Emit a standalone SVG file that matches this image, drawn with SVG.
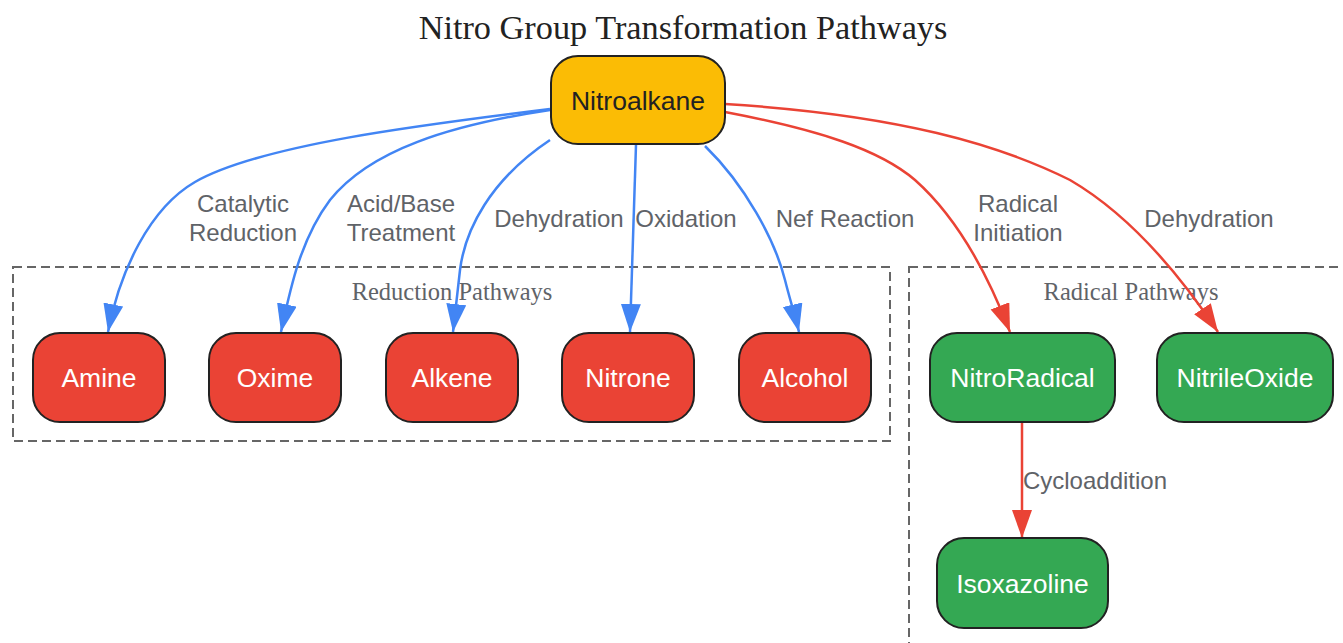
<svg xmlns="http://www.w3.org/2000/svg" width="1343" height="643" viewBox="0 0 1343 643">
<style>
.title{font-family:"Liberation Serif",serif;font-size:34.3px;fill:#222;text-anchor:middle}
.cl{fill:none;stroke:#666;stroke-width:2;stroke-dasharray:9,5}
.cltxt{font-family:"Liberation Serif",serif;font-size:24.5px;fill:#5f6368;text-anchor:middle}
.node rect{stroke:#222;stroke-width:2}
.red rect{fill:#EA4335}
.green rect{fill:#34A853}
.yellow rect{fill:#FBBC05}
.node text{font-family:"Liberation Sans",Arial,sans-serif;font-size:26.5px;text-anchor:middle;fill:#fff}
.yellow text{fill:#222}
.e{fill:none;stroke-width:2.5}
.blue{stroke:#4285F4}
.redl{stroke:#EA4335}
.lbl{font-family:"Liberation Sans",Arial,sans-serif;font-size:24px;fill:#5f6368;text-anchor:middle}
</style>
<defs>
<marker id="ab" markerUnits="userSpaceOnUse" markerWidth="30" markerHeight="22" refX="28" refY="10" orient="auto"><path d="M0,0 L28,10 L0,20 z" fill="#4285F4"/></marker>
<marker id="ar" markerUnits="userSpaceOnUse" markerWidth="30" markerHeight="22" refX="28" refY="10" orient="auto"><path d="M0,0 L28,10 L0,20 z" fill="#EA4335"/></marker>
</defs>
<text class="title" x="683" y="39">Nitro Group Transformation Pathways</text>
<g id="cluster-reduction">
<rect class="cl" x="13" y="267" width="877" height="174"/>
<text class="cltxt" x="452" y="300">Reduction Pathways</text>
</g>
<g id="cluster-radical">
<rect class="cl" x="909" y="267" width="450" height="400"/>
<text class="cltxt" x="1131" y="300">Radical Pathways</text>
</g>
<g id="edges">
<path class="e blue" marker-end="url(#ab)" d="M550,109 C420,125 260,145 195,182 C150,208 120,270 108,332"/>
<path class="e blue" marker-end="url(#ab)" d="M550,110 C450,125 370,150 330,200 C300,240 290,290 281,332"/>
<path class="e blue" marker-end="url(#ab)" d="M550,140 C490,180 465,230 460,270 C457,295 455,315 453,332"/>
<path class="e blue" marker-end="url(#ab)" d="M636,145 L630,332"/>
<path class="e blue" marker-end="url(#ab)" d="M705,146 C745,185 775,240 785,280 C790,300 795,315 799,332"/>
<path class="e redl" marker-end="url(#ar)" d="M725,112 C820,130 880,150 915,180 C960,220 990,280 1010,332"/>
<path class="e redl" marker-end="url(#ar)" d="M725,104 C900,115 1000,145 1070,180 C1130,215 1180,275 1218,332"/>
<path class="e redl" marker-end="url(#ar)" d="M1022,423 L1022,538"/>
<text class="lbl" x="243" y="212">Catalytic</text>
<text class="lbl" x="243" y="241">Reduction</text>
<text class="lbl" x="401" y="212">Acid/Base</text>
<text class="lbl" x="401" y="241">Treatment</text>
<text class="lbl" x="559" y="227">Dehydration</text>
<text class="lbl" x="686" y="227">Oxidation</text>
<text class="lbl" x="845" y="227">Nef Reaction</text>
<text class="lbl" x="1018" y="212">Radical</text>
<text class="lbl" x="1018" y="241">Initiation</text>
<text class="lbl" x="1209" y="227">Dehydration</text>
<text class="lbl" x="1095" y="489">Cycloaddition</text>
</g>
<g id="Nitroalkane" class="node yellow"><rect x="551" y="56" width="174" height="88" rx="27"/><text x="638" y="109.5">Nitroalkane</text></g>
<g id="Amine" class="node red"><rect x="33" y="333" width="132" height="89" rx="27"/><text x="99" y="387">Amine</text></g>
<g id="Oxime" class="node red"><rect x="209" y="333" width="132" height="89" rx="27"/><text x="275" y="387">Oxime</text></g>
<g id="Alkene" class="node red"><rect x="386" y="333" width="132" height="89" rx="27"/><text x="452" y="387">Alkene</text></g>
<g id="Nitrone" class="node red"><rect x="562" y="333" width="132" height="89" rx="27"/><text x="628" y="387">Nitrone</text></g>
<g id="Alcohol" class="node red"><rect x="739" y="333" width="132" height="89" rx="27"/><text x="805" y="387">Alcohol</text></g>
<g id="NitroRadical" class="node green"><rect x="930" y="333" width="185" height="89" rx="27"/><text x="1022.5" y="387">NitroRadical</text></g>
<g id="NitrileOxide" class="node green"><rect x="1157" y="333" width="176" height="89" rx="27"/><text x="1245" y="387">NitrileOxide</text></g>
<g id="Isoxazoline" class="node green"><rect x="937" y="538" width="171" height="90" rx="27"/><text x="1022.5" y="592.5">Isoxazoline</text></g>
</svg>
